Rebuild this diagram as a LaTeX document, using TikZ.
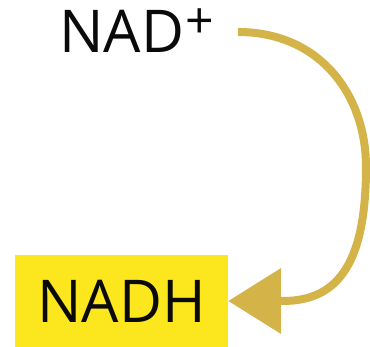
\documentclass[tikz,border=0pt]{standalone}
\usepackage{fontspec}
\setmainfont{Open Sans}
\usepackage{tikz}
\usetikzlibrary{arrows.meta,positioning}
\definecolor{Ink}{HTML}{0A0A0A}
\definecolor{Gold}{HTML}{D4B448}
\definecolor{Sun}{HTML}{FCE61E}
\newcommand{\supplus}{\hspace{1pt}{\fontsize{50}{52}\selectfont\raisebox{14pt}{+}}}
\tikzset{
  label/.style={inner sep=0pt,text=Ink,font=\fontsize{59}{62}\selectfont},
  labelbox/.style={label,fill=Sun,minimum width=213pt,minimum height=92pt},
  cyclearrow/.style={-{Triangle[length=53pt,width=64pt]},line width=8pt,draw=Gold}
}
\begin{document}
\begin{tikzpicture}[x=1pt,y=1pt]
\useasboundingbox (0,0) rectangle (370,347);
\node[label,anchor=base west] (nad) at (59,294) {NAD\supplus};
\node[labelbox] (nadh) at (121.5,46) {NADH};
\coordinate (turn) at (366,180);
\draw[cyclearrow] ([xshift=24pt]nad.east |- 0,315) .. controls (320,315) and (366,252) .. (turn)
  .. controls (366,87) and (340,46) .. (283,46) -- (nadh.east);
\end{tikzpicture}
\end{document}
